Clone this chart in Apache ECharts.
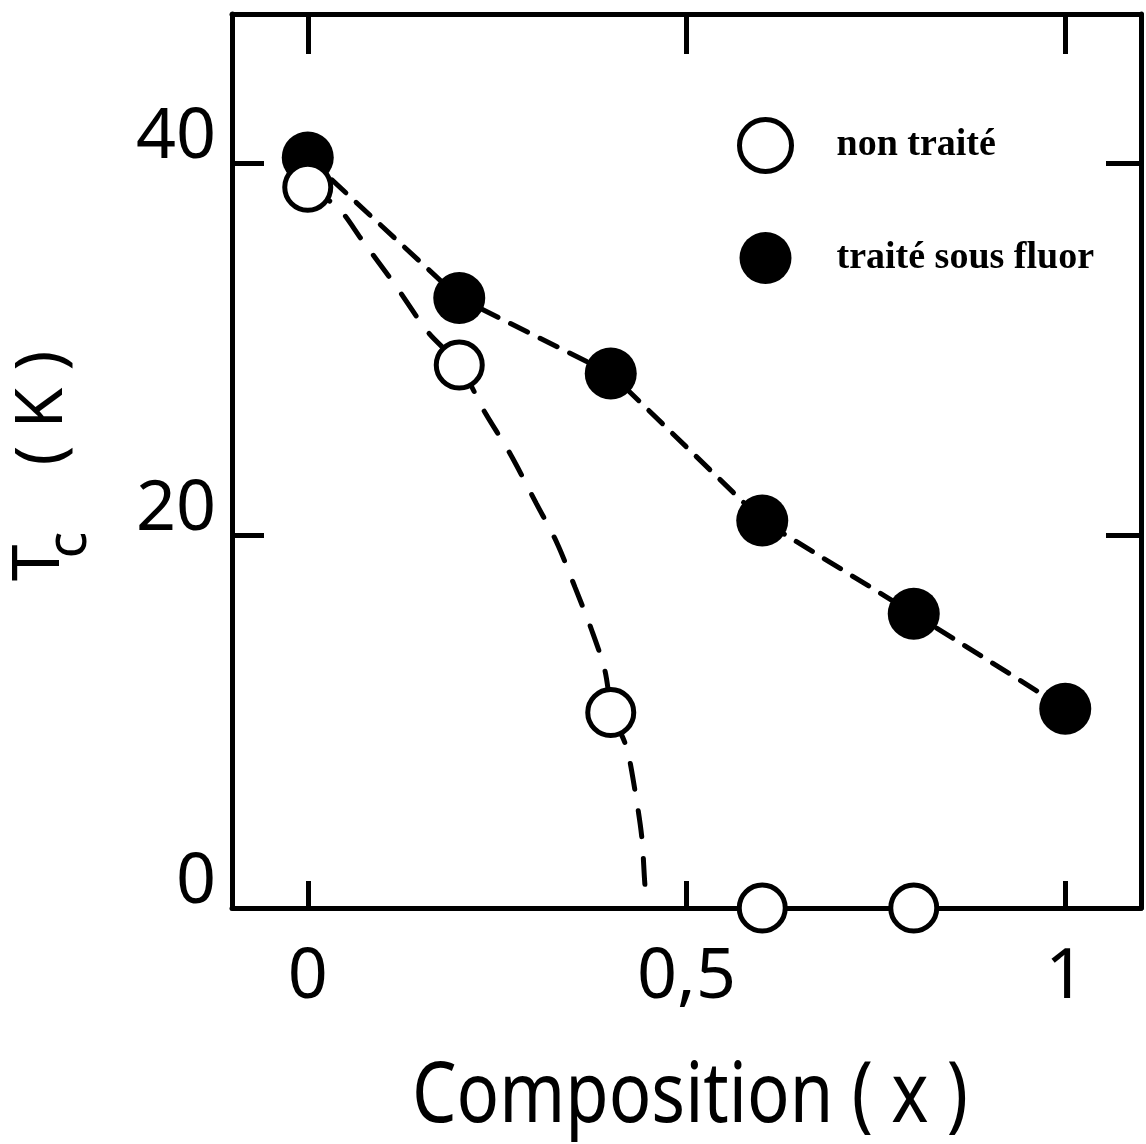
<!DOCTYPE html>
<html>
<head>
<meta charset="utf-8">
<script src="https://cdn.jsdelivr.net/npm/echarts@6/dist/echarts.min.js"></script>
<style>
html,body{margin:0;padding:0;background:#fff;}
#chart{width:1146px;height:1144px;}
</style>
</head>
<body>
<div id="chart"></div>
<script>
// ---- data ----
const compositionFluor = [0, 0.2, 0.4, 0.6, 0.8, 1.0];
const tcFluor = [40.3, 32.75, 28.7, 20.8, 15.8, 10.7];

const compositionRaw = [0, 0.2, 0.4, 0.6, 0.8];
const tcRaw = [38.7, 29.15, 10.5, 0, 0];

// hand-drawn dashed guide curve through the untreated samples
const guideX  = [0, 0.04, 0.071, 0.118, 0.159, 0.2, 0.234, 0.267, 0.302, 0.329, 0.353, 0.375, 0.392, 0.402, 0.421, 0.432, 0.441, 0.445, 0.448];
const guideTc = [38.7, 37.6, 35.9, 33.3, 30.9, 29.15, 26.6, 24.4, 21.7, 19.6, 17.2, 14.9, 12.8, 10.5, 8.6, 6.3, 3.8, 1.3, 0.15];

const xTicks = [0, 0.5, 1];
const xTickLabels = ['0', '0,5', '1'];
const yTicks = [0, 20, 40];
const yTickLabels = ['0', '20', '40'];

const legendNames = ['non traité', 'traité sous fluor'];
const xTitle = 'Composition ( x )';

// ---- build ----
const pairs = (xs, ys) => xs.map((x, i) => [x, ys[i]]);
const LBL_FONT = 'Noto Sans';

const chart = echarts.init(document.getElementById('chart'), null, {renderer: 'canvas'});

const axisBase = {
  type: 'value',
  splitLine: {show: false},
  axisLine: {show: true, onZero: false, lineStyle: {color: '#000', width: 5}},
};

chart.setOption({
  animation: false,
  backgroundColor: '#fff',
  grid: {left: 232, right: 5, top: 14, bottom: 236, outerBoundsMode: 'none', containLabel: false},
  xAxis: [
    Object.assign({}, axisBase, {
      position: 'bottom', min: -0.1, max: 1.1,
      axisTick: {show: true, inside: true, length: 27, customValues: xTicks, lineStyle: {color: '#000', width: 5}},
      axisLabel: {show: true, customValues: xTicks, margin: 45, fontSize: 70, lineHeight: 50,
        fontFamily: LBL_FONT, color: '#000',
        formatter: v => { const i = xTicks.findIndex(t => Math.abs(t - v) < 1e-9); return i >= 0 ? xTickLabels[i] : ''; }}
    }),
    Object.assign({}, axisBase, {
      position: 'top', min: -0.1, max: 1.1,
      axisTick: {show: true, inside: true, length: 40, customValues: xTicks, lineStyle: {color: '#000', width: 5}},
      axisLabel: {show: false}
    })
  ],
  yAxis: [
    Object.assign({}, axisBase, {
      position: 'left', min: 0, max: 48,
      axisTick: {show: true, inside: true, length: 32, customValues: yTicks, lineStyle: {color: '#000', width: 5}},
      axisLabel: {show: true, customValues: yTicks, margin: 16, fontSize: 70, lineHeight: 50,
        verticalAlign: 'bottom', fontFamily: LBL_FONT, color: '#000',
        formatter: v => { const i = yTicks.indexOf(v); return i >= 0 ? yTickLabels[i] : ''; }}
    }),
    Object.assign({}, axisBase, {
      position: 'right', min: 0, max: 48,
      axisTick: {show: true, inside: true, length: 35, customValues: [20, 40], lineStyle: {color: '#000', width: 5}},
      axisLabel: {show: false}
    })
  ],
  legend: {
    show: true,
    orient: 'vertical',
    left: 737, top: 117, padding: 0,
    itemWidth: 52, itemHeight: 52, itemGap: 58,
    icon: 'circle',
    selectedMode: false,
    textStyle: {fontFamily: 'Liberation Serif', fontWeight: 'bold', fontSize: 38, color: '#000', padding: [0, 0, 0, 40]},
    data: [
      {name: legendNames[0], icon: 'circle', itemStyle: {color: '#fff', borderColor: '#000', borderWidth: 5}},
      {name: legendNames[1], icon: 'circle', itemStyle: {color: '#000', borderWidth: 0}}
    ]
  },
  series: [
    {
      name: 'guide-non', type: 'line', xAxisIndex: 0, yAxisIndex: 0,
      data: pairs(guideX, guideTc), smooth: 0.3, showSymbol: false, symbol: 'none', z: 2,
      lineStyle: {color: '#000', width: 5, type: [26, 22], cap: 'round'}
    },
    {
      name: 'guide-fluor', type: 'line', xAxisIndex: 0, yAxisIndex: 0,
      data: pairs(compositionFluor, tcFluor), showSymbol: false, symbol: 'none', z: 2,
      lineStyle: {color: '#000', width: 5, type: [19, 14], cap: 'round'}
    },
    {
      name: legendNames[1], type: 'scatter', xAxisIndex: 0, yAxisIndex: 0,
      data: pairs(compositionFluor, tcFluor), symbol: 'circle', symbolSize: 52, z: 4,
      itemStyle: {color: '#000', opacity: 1}
    },
    {
      name: legendNames[0], type: 'scatter', xAxisIndex: 0, yAxisIndex: 0,
      data: pairs(compositionRaw, tcRaw), symbol: 'circle', symbolSize: 46, z: 5,
      itemStyle: {color: '#fff', borderColor: '#000', borderWidth: 5, opacity: 1}
    }
  ],
  graphic: [
    {type: 'text', x: 690, y: 1098, z: 10, scaleX: 0.84,
      style: {text: xTitle, fontFamily: LBL_FONT, fontSize: 84, fill: '#000', align: 'center', verticalAlign: 'middle'}},
    {type: 'text', x: 40, y: 563, rotation: Math.PI / 2, z: 10,
      style: {text: 'T', fontFamily: LBL_FONT, fontSize: 66, fill: '#000', align: 'center', verticalAlign: 'middle'}},
    {type: 'text', x: 70, y: 545, rotation: Math.PI / 2, z: 10,
      style: {text: 'c', fontFamily: LBL_FONT, fontSize: 56, fill: '#000', align: 'center', verticalAlign: 'middle'}},
    {type: 'text', x: 43, y: 408, rotation: Math.PI / 2, z: 10,
      style: {text: '( K )', fontFamily: LBL_FONT, fontSize: 66, fill: '#000', align: 'center', verticalAlign: 'middle'}}
  ]
});
</script>
</body>
</html>
